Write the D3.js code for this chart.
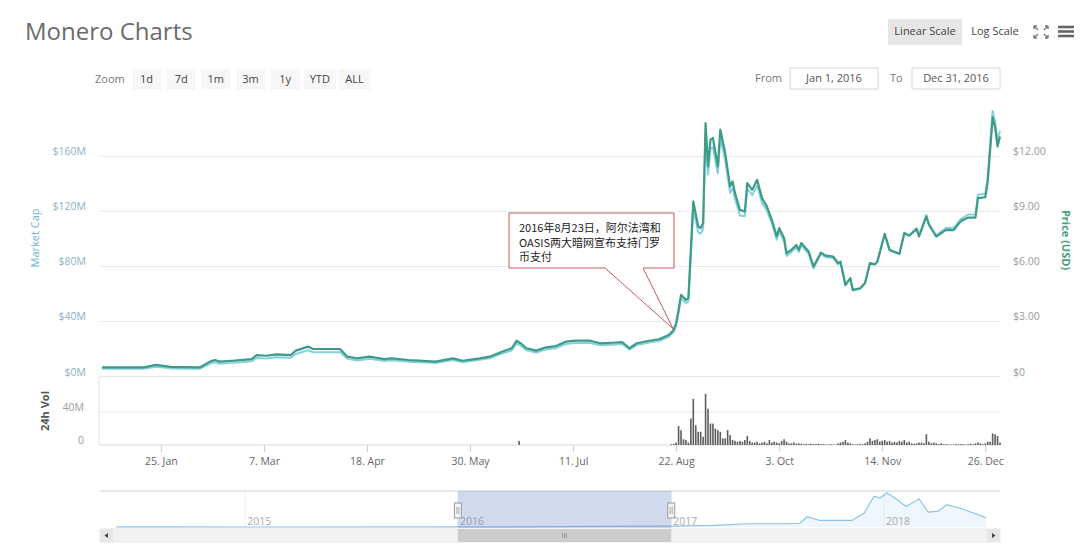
<!DOCTYPE html>
<html>
<head>
<meta charset="utf-8">
<script src="https://cdn.jsdelivr.net/npm/d3@7"></script>
<style>
  body { margin: 0; background: #fff; }
  text { font-family: "Open Sans", "Liberation Sans", sans-serif; }
  .cjk { font-family: "Noto Sans CJK SC", "Open Sans", sans-serif; }
</style>
</head>
<body>
<svg id="chart" width="1080" height="553"></svg>
<script>
"use strict";

// price (USD) and market cap (M USD)
var priceDates = [
  "2016-01-01","2016-01-18","2016-01-23","2016-01-29","2016-02-10","2016-02-14","2016-02-16","2016-02-18","2016-02-24",
  "2016-03-02","2016-03-04","2016-03-08","2016-03-12","2016-03-18","2016-03-20","2016-03-25","2016-03-27",
  "2016-04-02","2016-04-07","2016-04-10","2016-04-14","2016-04-19","2016-04-25","2016-04-28",
  "2016-05-05","2016-05-16","2016-05-23","2016-05-27","2016-06-03","2016-06-07","2016-06-12","2016-06-16",
  "2016-06-18","2016-06-20","2016-06-22","2016-06-26","2016-06-30","2016-07-04","2016-07-08","2016-07-12",
  "2016-07-18","2016-07-22","2016-07-27","2016-07-31","2016-08-03","2016-08-06","2016-08-11","2016-08-15",
  "2016-08-19","2016-08-21","2016-08-22","2016-08-23","2016-08-24","2016-08-26","2016-08-27","2016-08-29",
  "2016-08-31","2016-09-01","2016-09-02","2016-09-03","2016-09-04","2016-09-05","2016-09-06","2016-09-08",
  "2016-09-09","2016-09-11","2016-09-13","2016-09-14","2016-09-15","2016-09-17","2016-09-19","2016-09-20",
  "2016-09-22","2016-09-24","2016-09-26","2016-09-28","2016-09-30","2016-10-02","2016-10-03","2016-10-05",
  "2016-10-06","2016-10-08","2016-10-10","2016-10-11","2016-10-12","2016-10-15","2016-10-17","2016-10-20",
  "2016-10-22","2016-10-25","2016-10-27","2016-10-28","2016-10-30","2016-11-01","2016-11-02","2016-11-05",
  "2016-11-07","2016-11-09","2016-11-11","2016-11-12","2016-11-15","2016-11-17","2016-11-21","2016-11-23",
  "2016-11-25","2016-11-28","2016-11-29","2016-12-02","2016-12-03","2016-12-06","2016-12-10","2016-12-13",
  "2016-12-16","2016-12-19","2016-12-22","2016-12-23","2016-12-26","2016-12-27","2016-12-29","2016-12-30",
  "2016-12-31","2017-01-01"
];
var priceValues = [
  0.50,0.50,0.63,0.52,0.50,0.81,0.90,0.81,0.86,
  0.95,1.17,1.13,1.21,1.17,1.41,1.63,1.50,
  1.50,1.50,1.08,0.99,1.08,0.95,0.99,
  0.90,0.81,0.99,0.86,0.99,1.08,1.35,1.54,
  1.95,1.77,1.54,1.41,1.59,1.66,1.90,1.95,
  1.95,1.81,1.84,1.87,1.54,1.81,1.95,2.03,
  2.26,2.54,2.90,3.63,4.45,4.17,4.27,9.54,
  8.17,8.09,8.36,13.81,11.45,12.90,13.00,11.45,
  13.45,12.18,10.35,10.63,9.99,9.08,8.99,10.54,
  10.17,10.72,9.72,9.26,8.54,7.63,8.09,7.54,
  6.72,6.90,7.17,6.90,7.27,6.81,5.99,6.75,
  6.59,6.54,6.18,6.26,4.99,5.36,4.72,4.81,
  5.10,6.18,6.11,6.26,7.77,6.90,6.68,7.81,
  7.67,8.03,7.63,8.72,8.27,7.63,7.99,7.97,
  8.46,8.66,8.66,9.72,9.77,10.63,14.13,13.58,
  12.54,13.08
];
var capValues = [
  5.6,5.6,7.1,5.9,5.7,9.2,10.3,9.3,9.9,
  11.0,13.5,13.1,14.0,13.6,16.4,19.1,17.6,
  17.6,17.7,12.8,11.7,12.8,11.3,11.8,
  10.8,9.8,12.0,10.4,12.1,13.2,16.6,18.9,
  24.0,21.8,19.0,17.4,19.7,20.6,23.6,24.3,
  24.4,22.7,23.1,23.6,19.5,22.9,24.7,25.8,
  28.8,32.4,37.0,46.4,56.9,53.3,54.6,122.3,
  104.7,103.7,107.2,177.0,146.8,165.4,166.7,147.6,
  173.4,157.0,133.4,137.0,128.8,117.0,116.5,136.6,
  131.8,138.9,126.0,120.7,111.3,99.4,105.4,98.2,
  87.6,90.4,93.9,90.4,95.2,89.2,78.5,88.9,
  86.8,86.1,81.4,82.9,66.1,71.0,62.5,63.7,
  67.9,82.3,81.3,83.3,103.4,91.8,89.4,104.5,
  102.6,108.0,102.6,117.3,111.2,102.6,108.0,107.8,
  114.4,117.7,117.7,132.1,132.8,145.1,192.9,185.4,
  171.2,178.5
];

// 24h volume (M USD), one bar per day from volStart
var volStart = "2016-08-20";
var volValues = [
  1,1.5,3,23,18,7,6,3,32,56,24,16,
  16,10,62,44,26,26,20,18,16,8,8,18,12,6,5,4,5,4,6,11,5,3,3,4,2,3,4,2,6,3,
  4,3,2,5,7,4,2,2,3,1.5,2,1.5,1,1.5,1,1.5,1,1,1.5,1,1,0.5,0.5,1,0.5,0.5,2,3,4,6,3,
  2,1,0.5,1,1,1,2,4,8,5,6,7,4,5,6,4,5,3,4,3,5,4,6,3,4,2,1.5,2,3,3,
  2,13,4,2,3,2,1,2,1,1,0.5,0.5,0.5,1,1,1,1,0.5,1,1.5,1,2,3,2,1,2,4,4,14,13,11,
  3
];
var earlyVolDates = ["2016-06-19"];
var earlyVolValues = [5];

// navigator series (market cap, B USD)
var navDates = [
  "2014-05-25","2014-09-01","2015-01-01","2016-01-01","2016-09-01","2017-01-01","2017-03-15","2017-05-15",
  "2017-07-20","2017-08-10","2017-08-22","2017-09-13","2017-11-07","2017-11-28","2017-12-15","2017-12-25",
  "2018-01-06","2018-01-22","2018-02-08","2018-03-02","2018-03-18","2018-04-04","2018-04-19","2018-05-17",
  "2018-06-25"
];
var navValues = [
  0.02,0.02,0.005,0.006,0.12,0.19,0.35,0.7,
  0.7,0.8,2.2,1.4,1.4,3.0,6.6,6.2,
  7.3,6.0,4.4,6.0,3.2,3.4,4.8,3.8,
  2.0
];

var xTickDates = ["2016-01-25","2016-03-07","2016-04-18","2016-05-30","2016-07-11","2016-08-22","2016-10-03","2016-11-14","2016-12-26"];
var capTicks = [0, 40, 80, 120, 160];
var priceTicks = [0, 3, 6, 9, 12];
var volTicks = [0, 40];
var navYears = ["2015-01-01","2016-01-01","2017-01-01","2018-01-01"];
var zoomButtons = ["1d","7d","1m","3m","1y","YTD","ALL"];
var annotationLines = ["2016年8月23日，阿尔法湾和", "OASIS两大暗网宣布支持门罗", "币支付"];
var annotationDate = "2016-08-22";
var annotationPrice = 2.6;

var parseDate = d3.timeParse("%Y-%m-%d");
var svg = d3.select("#chart");

svg.append("rect").attr("width", 1080).attr("height", 553).attr("fill", "#fff");

// ---- header ----
svg.append("text").attr("x", 25).attr("y", 40)
  .attr("font-size", 24).attr("fill", "#6b6b6b").text("Monero Charts");

svg.append("rect").attr("x", 888).attr("y", 19).attr("width", 74).attr("height", 26).attr("fill", "#e6e6e6");
svg.append("text").attr("x", 925).attr("y", 35).attr("text-anchor", "middle")
  .attr("font-size", 11).attr("fill", "#444").text("Linear Scale");
svg.append("text").attr("x", 995).attr("y", 35).attr("text-anchor", "middle")
  .attr("font-size", 11).attr("fill", "#444").text("Log Scale");

// fullscreen icon
var fs = svg.append("g").attr("stroke", "#777").attr("stroke-width", 1.4).attr("fill", "none");
fs.append("path").attr("d", "M1034,26 L1038,30 M1034,26 h3 M1034,26 v3");
fs.append("path").attr("d", "M1048,26 L1044,30 M1048,26 h-3 M1048,26 v3");
fs.append("path").attr("d", "M1034,38 L1038,34 M1034,38 h3 M1034,38 v-3");
fs.append("path").attr("d", "M1048,38 L1044,34 M1048,38 h-3 M1048,38 v-3");
// menu icon
[27, 31.5, 36].forEach(function (y) {
  svg.append("rect").attr("x", 1058).attr("y", y - 1.3).attr("width", 16).attr("height", 2.6).attr("fill", "#666");
});

// range selector
svg.append("text").attr("x", 95).attr("y", 83).attr("font-size", 11).attr("fill", "#777").text("Zoom");
var btnX = d3.scalePoint().domain(zoomButtons).range([146.5, 354.5]);
zoomButtons.forEach(function (b) {
  var w = b.length > 2 ? 32 : 29;
  svg.append("rect").attr("x", btnX(b) - w / 2).attr("y", 69).attr("width", w).attr("height", 21).attr("fill", "#f7f7f7");
  svg.append("text").attr("x", btnX(b)).attr("y", 83).attr("text-anchor", "middle")
    .attr("font-size", 11).attr("fill", "#444").text(b);
});
svg.append("text").attr("x", 755).attr("y", 82).attr("font-size", 11).attr("fill", "#777").text("From");
svg.append("rect").attr("x", 790).attr("y", 68).attr("width", 88).attr("height", 21)
  .attr("fill", "#fff").attr("stroke", "#d8d8d8");
svg.append("text").attr("x", 834).attr("y", 82).attr("text-anchor", "middle")
  .attr("font-size", 11).attr("fill", "#555").text("Jan 1, 2016");
svg.append("text").attr("x", 890).attr("y", 82).attr("font-size", 11).attr("fill", "#777").text("To");
svg.append("rect").attr("x", 912).attr("y", 68).attr("width", 88).attr("height", 21)
  .attr("fill", "#fff").attr("stroke", "#d8d8d8");
svg.append("text").attr("x", 956).attr("y", 82).attr("text-anchor", "middle")
  .attr("font-size", 11).attr("fill", "#555").text("Dec 31, 2016");

// ---- scales ----
var xScale = d3.scaleTime()
  .domain([parseDate("2016-01-01"), parseDate("2017-01-01")])
  .range([102, 1000]);
var capScale = d3.scaleLinear().domain([0, 160]).range([376.5, 156.3]);
var priceScale = d3.scaleLinear().domain([0, 12]).range([376.5, 156.3]);
var volScale = d3.scaleLinear().domain([0, 40]).range([445, 412]);

// ---- main panel grid + axes ----
svg.append("g").selectAll("line").data(capTicks).enter().append("line")
  .attr("x1", 100).attr("x2", 1000)
  .attr("y1", function (d) { return capScale(d); })
  .attr("y2", function (d) { return capScale(d); })
  .attr("stroke", "#e8e8e8");

svg.append("g").attr("transform", "translate(86,0)")
  .call(d3.axisLeft(capScale).tickValues(capTicks).tickSize(0).tickPadding(0)
    .tickFormat(function (d) { return "$" + d + "M"; }))
  .call(function (g) {
    g.select(".domain").remove();
    g.selectAll("text").attr("dy", "-1.5").attr("fill", "#8fb0c8").attr("font-size", 10.5)
      .style("font-family", "'Open Sans', sans-serif");
  });

svg.append("g").attr("transform", "translate(1013,0)")
  .call(d3.axisRight(priceScale).tickValues(priceTicks).tickSize(0).tickPadding(0)
    .tickFormat(function (d) { return d === 0 ? "$0" : "$" + d3.format(".2f")(d); }))
  .call(function (g) {
    g.select(".domain").remove();
    g.selectAll("text").attr("dy", "-1.5").attr("fill", "#9a9a9a").attr("font-size", 10.5)
      .style("font-family", "'Open Sans', sans-serif");
  });

svg.append("text").attr("transform", "translate(39,238) rotate(-90)").attr("text-anchor", "middle")
  .attr("font-size", 11).attr("fill", "#6eb2da").text("Market Cap");
svg.append("text").attr("transform", "translate(1062,240) rotate(90)").attr("text-anchor", "middle")
  .attr("font-size", 11).attr("font-weight", "bold").attr("fill", "#4a9f7c").text("Price (USD)");

// ---- lines ----
var capData = priceDates.map(function (d, i) { return { date: parseDate(d), v: capValues[i] }; });
var priceData = priceDates.map(function (d, i) { return { date: parseDate(d), v: priceValues[i] }; });

svg.append("path").datum(capData)
  .attr("fill", "none").attr("stroke", "#86d0e0").attr("stroke-width", 2).attr("stroke-linejoin", "round")
  .attr("d", d3.line().x(function (d) { return xScale(d.date); }).y(function (d) { return capScale(d.v); }));
svg.append("path").datum(priceData)
  .attr("fill", "none").attr("stroke", "#3d9b86").attr("stroke-width", 2.2).attr("stroke-linejoin", "round")
  .attr("d", d3.line().x(function (d) { return xScale(d.date); }).y(function (d) { return priceScale(d.v); }));

// ---- annotation ----
var tipX = xScale(parseDate(annotationDate)) - 3;
var tipY = priceScale(annotationPrice);
svg.append("path")
  .attr("d", "M509,213 H674 V268 H643 L" + tipX + "," + tipY + " L605,268 H509 Z")
  .attr("fill", "#fff").attr("stroke", "#c65a5a").attr("stroke-width", 1);
annotationLines.forEach(function (t, i) {
  svg.append("text").attr("class", "cjk").attr("x", 519).attr("y", 232 + i * 14.5)
    .attr("font-size", 11).attr("fill", "#222").text(t);
});

// ---- volume panel ----
svg.append("line").attr("x1", 99).attr("x2", 99).attr("y1", 377).attr("y2", 445).attr("stroke", "#e0e0e0");
svg.append("g").selectAll("line").data(volTicks).enter().append("line")
  .attr("x1", 100).attr("x2", 1000)
  .attr("y1", function (d) { return volScale(d); })
  .attr("y2", function (d) { return volScale(d); })
  .attr("stroke", function (d) { return d === 0 ? "#d8d8d8" : "#e8e8e8"; });

svg.append("g").attr("transform", "translate(84,0)")
  .call(d3.axisLeft(volScale).tickValues(volTicks).tickSize(0).tickPadding(0)
    .tickFormat(function (d) { return d === 0 ? "0" : d + "M"; }))
  .call(function (g) {
    g.select(".domain").remove();
    g.selectAll("text").attr("dy", "-1.5").attr("fill", "#999").attr("font-size", 10.5)
      .style("font-family", "'Open Sans', sans-serif");
  });
svg.append("text").attr("transform", "translate(49,411) rotate(-90)").attr("text-anchor", "middle")
  .attr("font-size", 11).attr("font-weight", "bold").attr("fill", "#555").text("24h Vol");

var start = parseDate(volStart);
var volData = volValues.map(function (v, i) { return { date: d3.timeDay.offset(start, i), v: v }; })
  .concat(earlyVolDates.map(function (d, i) { return { date: parseDate(d), v: earlyVolValues[i] }; }));

svg.append("g").selectAll("rect").data(volData).enter().append("rect")
  .attr("x", function (d) { return xScale(d.date) - 0.8; })
  .attr("width", 1.6)
  .attr("y", function (d) { return volScale(d.v); })
  .attr("height", function (d) { return volScale(0) - volScale(d.v); })
  .attr("fill", "#5e5e5e");

// x axis
svg.append("g").attr("transform", "translate(0,445)")
  .call(d3.axisBottom(xScale).tickValues(xTickDates.map(parseDate)).tickSize(7).tickPadding(6)
    .tickFormat(d3.timeFormat("%-d. %b")))
  .call(function (g) {
    g.select(".domain").remove();
    g.selectAll("line").attr("stroke", "#ccc");
    g.selectAll("text").attr("fill", "#666").attr("font-size", 10.5)
      .style("font-family", "'Open Sans', sans-serif");
  });

// ---- navigator ----
var navX = d3.scaleTime().domain([parseDate("2014-04-27"), parseDate("2018-07-19")]).range([100, 1000]);
var navY = d3.scaleLinear().domain([0, 7.5]).range([527, 492]);
var navData = navDates.map(function (d, i) { return { date: parseDate(d), v: navValues[i] }; });

svg.append("line").attr("x1", 100).attr("x2", 1000).attr("y1", 491).attr("y2", 491).attr("stroke", "#cfcfcf");
svg.append("g").selectAll("line").data(navYears).enter().append("line")
  .attr("x1", function (d) { return navX(parseDate(d)); })
  .attr("x2", function (d) { return navX(parseDate(d)); })
  .attr("y1", 491).attr("y2", 528).attr("stroke", "#eeeeee");

svg.append("path").datum(navData)
  .attr("fill", "rgba(124,181,236,0.12)")
  .attr("d", d3.area().x(function (d) { return navX(d.date); }).y0(527).y1(function (d) { return navY(d.v); }));
svg.append("path").datum(navData)
  .attr("fill", "none").attr("stroke", "#8ec2e6").attr("stroke-width", 1.2)
  .attr("d", d3.line().x(function (d) { return navX(d.date); }).y(function (d) { return navY(d.v); }));

svg.append("g").selectAll("text").data(navYears).enter().append("text")
  .attr("x", function (d) { return navX(parseDate(d)) + 2; })
  .attr("y", 525).attr("font-size", 10.5).attr("fill", "#aaa")
  .text(function (d) { return d.slice(0, 4); });

var selA = navX(xScale.domain()[0]);
var selB = navX(xScale.domain()[1]);
svg.append("rect").attr("x", selA).attr("y", 491).attr("width", selB - selA).attr("height", 37)
  .attr("fill", "rgba(102,133,194,0.3)");

[selA, selB].forEach(function (hx) {
  svg.append("rect").attr("x", hx - 3.5).attr("y", 503).attr("width", 7).attr("height", 15)
    .attr("fill", "#f2f2f2").attr("stroke", "#999");
  svg.append("path").attr("d", "M" + (hx - 1) + ",507 v7 M" + (hx + 1) + ",507 v7")
    .attr("stroke", "#999").attr("stroke-width", 0.8);
});

// scrollbar
svg.append("rect").attr("x", 100).attr("y", 529).attr("width", 900).attr("height", 13)
  .attr("fill", "#f2f2f2").attr("stroke", "#eaeaea");
svg.append("rect").attr("x", selA).attr("y", 529).attr("width", selB - selA).attr("height", 13)
  .attr("fill", "#cccccc");
svg.append("path").attr("d", "M" + ((selA + selB) / 2 - 2) + ",533 v5 M" + ((selA + selB) / 2) + ",533 v5 M" + ((selA + selB) / 2 + 2) + ",533 v5")
  .attr("stroke", "#888").attr("stroke-width", 0.8);
svg.append("rect").attr("x", 100).attr("y", 529).attr("width", 13).attr("height", 13).attr("fill", "#e6e6e6");
svg.append("path").attr("d", "M108,533 L104.5,535.5 L108,538 Z").attr("fill", "#444");
svg.append("rect").attr("x", 987).attr("y", 529).attr("width", 13).attr("height", 13).attr("fill", "#e6e6e6");
svg.append("path").attr("d", "M992,533 L995.5,535.5 L992,538 Z").attr("fill", "#444");
</script>
</body>
</html>
